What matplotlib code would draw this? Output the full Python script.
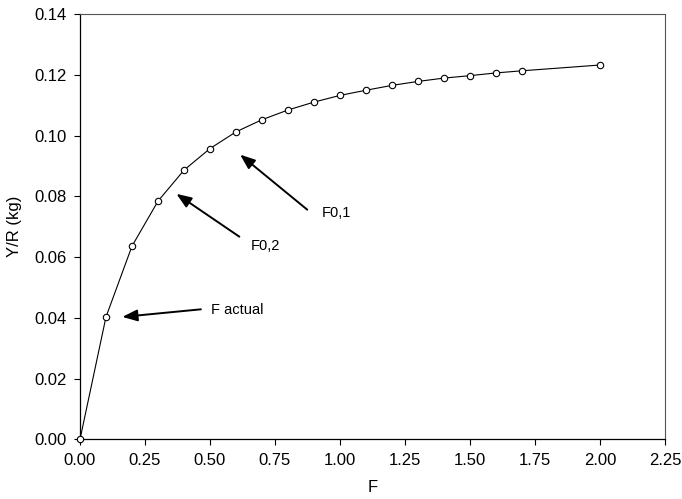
import matplotlib.pyplot as plt
import numpy as np

plt.rcParams['font.family'] = ['Liberation Sans', 'DejaVu Sans']

# yield per recruit vs fishing mortality
f_values = [0.0, 0.1, 0.2, 0.3, 0.4, 0.5, 0.6, 0.7, 0.8, 0.9,
            1.0, 1.1, 1.2, 1.3, 1.4, 1.5, 1.6, 1.7, 2.0]
ypr = [0.0, 0.0403, 0.0636, 0.0784, 0.0886, 0.0957, 0.1012, 0.1052, 0.1084, 0.1110,
       0.1132, 0.1149, 0.1165, 0.1178, 0.1189, 0.1197, 0.1206, 0.1213, 0.1232]

x_ticks = [0.0, 0.25, 0.5, 0.75, 1.0, 1.25, 1.5, 1.75, 2.0, 2.25]
y_ticks = [0.0, 0.02, 0.04, 0.06, 0.08, 0.10, 0.12, 0.14]

# annotation: label, text position, arrow tip
notes = [
    ("F actual", (0.505, 0.0425), (0.163, 0.0403)),
    ("F0,2", (0.655, 0.0635), (0.371, 0.0808)),
    ("F0,1", (0.928, 0.0745), (0.616, 0.0937)),
]
tails = [(0.465, 0.0428), (0.613, 0.0667), (0.874, 0.0756)]

fig = plt.figure(figsize=(6.82, 4.99), dpi=100)
ax = fig.add_axes([0.1173, 0.1195, 0.8577, 0.8525])

ax.plot(f_values, ypr, color='k', linewidth=0.8, marker='o', markersize=4.6,
        markerfacecolor='w', markeredgecolor='k', markeredgewidth=0.8,
        clip_on=False, zorder=3)

for (label, txt, tip), tail in zip(notes, tails):
    ax.text(txt[0], txt[1], label, fontsize=10.5, ha='left', va='center')
    ax.annotate('', xy=tip, xytext=tail,
                arrowprops=dict(arrowstyle='-|>,head_length=0.9,head_width=0.35',
                                color='k', lw=1.4, shrinkA=0, shrinkB=0))

ax.set_xlim(0, 2.25)
ax.set_ylim(0, 0.14)
ax.set_xticks(x_ticks)
ax.set_yticks(y_ticks)
ax.set_xticklabels(['%.2f' % v for v in x_ticks])
ax.set_yticklabels(['%.2f' % v for v in y_ticks])
ax.tick_params(direction='out', length=4.5, width=0.8, labelsize=12, top=False, right=False)
ax.tick_params(axis='x', pad=5)
ax.tick_params(axis='y', pad=5)

ax.spines['left'].set_linewidth(0.9)
ax.spines['bottom'].set_linewidth(0.9)
ax.spines['top'].set_color('#555555')
ax.spines['right'].set_color('#555555')

ax.set_xlabel('F', fontsize=12, labelpad=9)
ax.set_ylabel('Y/R (kg)', fontsize=12, labelpad=9)

fig.savefig('out.png', dpi=100)
